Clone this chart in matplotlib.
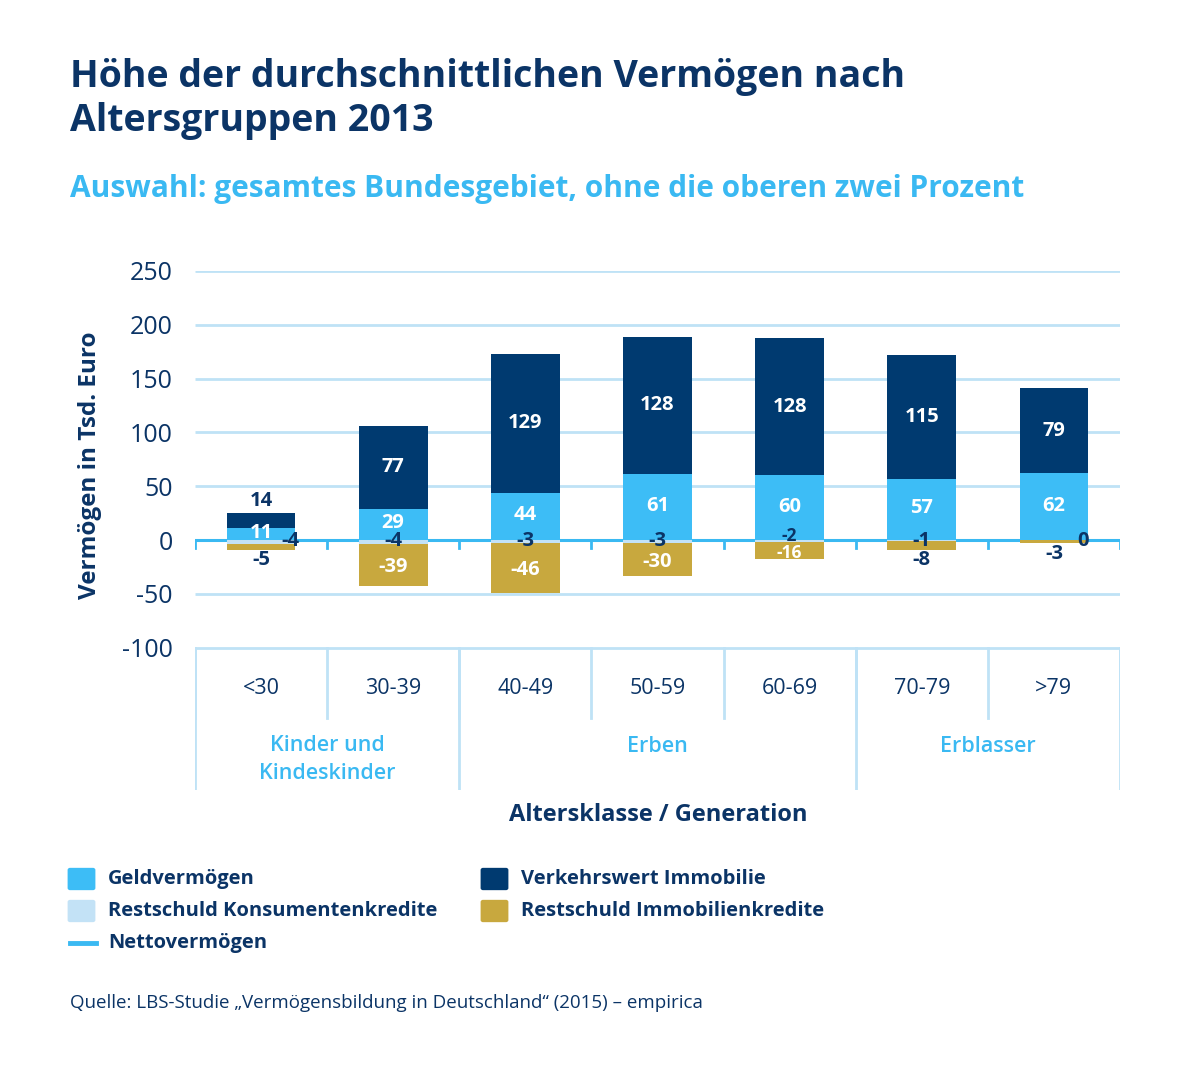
import numpy as np
import matplotlib.pyplot as plt
from matplotlib.patches import FancyBboxPatch
from matplotlib.lines import Line2D

plt.rcParams['font.family'] = ['Open Sans', 'DejaVu Sans']

# Daten (Tsd. Euro)
alter = ['<30', '30-39', '40-49', '50-59', '60-69', '70-79', '>79']
geld = [11, 29, 44, 61, 60, 57, 62]
immobilie = [14, 77, 129, 128, 128, 115, 79]
konsum = [-4, -4, -3, -3, -2, -1, 0]
immokredit = [-5, -39, -46, -30, -16, -8, -3]
gruppen = ['Kinder und\nKindeskinder', 'Erben', 'Erblasser']
gruppen_bereich = [(0, 1), (2, 4), (5, 6)]
yticks = [-100, -50, 0, 50, 100, 150, 200, 250]

c_geld = '#3dbdf6'
c_immo = '#003a70'
c_konsum = '#c3e2f6'
c_kredit = '#c8a83e'
c_text = '#0b3466'
c_grid = '#bfe2f6'
c_zero = '#3ab9f2'

W, H = 1200, 1080
fig = plt.figure(figsize=(12, 10.8), dpi=100)

# Achse: 250 bei 271 px, 0 bei 540 px
scale = (540 - 271) / 250
ybot = -(790 - 540) / scale
ax = fig.add_axes([195 / W, 1 - 790 / H, (1120 - 195) / W, (790 - 271) / H])
ax.set_xlim(-0.5, 6.5)
ax.set_ylim(ybot, 250)
for s in ax.spines.values():
    s.set_visible(False)
ax.set_xticks([])
ax.set_yticks(yticks)
ax.set_yticklabels([str(v) for v in yticks], fontsize=18, color=c_text, fontweight='medium')
ax.tick_params(axis='y', length=0, pad=16)

x = np.arange(len(alter))
bw = 0.52

# Gitternetz
for v in yticks:
    if v == 0:
        continue
    ax.plot([-0.5, 6.5], [v, v], color=c_grid, lw=2, zorder=1, solid_capstyle='butt')
ax.plot([-0.5, 6.5], [0, 0], color=c_zero, lw=2.2, zorder=1)
for b in np.arange(-0.5, 7, 1):
    ax.plot([b, b], [0, -7], color=c_zero, lw=2, zorder=1)

# Balken
ax.bar(x, geld, bw, color=c_geld, zorder=2)
ax.bar(x, immobilie, bw, bottom=geld, color=c_immo, zorder=2)
ax.bar(x, konsum, bw, color=c_konsum, zorder=2)
ax.bar(x, immokredit, bw, bottom=konsum, color=c_kredit, zorder=2)

lab = dict(fontweight='bold', ha='center', va='center', zorder=5)
for i in x:
    ax.text(i, geld[i] / 2 + 1, str(geld[i]), color='white', fontsize=14.5, **lab)
    top = geld[i] + immobilie[i]
    if immobilie[i] > 30:
        ax.text(i, geld[i] + immobilie[i] / 2, str(immobilie[i]), color='white',
                fontsize=14.5, **lab)
    else:
        ax.text(i, top + 11, str(immobilie[i]), color=c_text, fontsize=14.5, **lab)
    # schmales Segment: Beschriftungen etwas kleiner
    knapp = -20 < immokredit[i] <= -15
    fs = 12.5 if knapp else 14.5
    ky = 4 if knapp else -1
    kx = i + 0.22 if i in (0, 6) else i
    ax.text(kx, ky, str(konsum[i]), color=c_text, fontsize=fs, **lab)
    bottom = konsum[i] + immokredit[i]
    if immokredit[i] <= -15:
        yy = konsum[i] + immokredit[i] / 2 - (2 if knapp else 2)
        ax.text(i, yy, str(immokredit[i]), color='white', fontsize=fs, **lab)
    else:
        ax.text(i, bottom - 10, str(immokredit[i]), color=c_text, fontsize=fs, **lab)

# Tabelle unter der Achse
y_mid = -(718 - 540) / scale
for b in np.arange(-0.5, 7, 1):
    ax.plot([b, b], [-100, y_mid], color=c_grid, lw=2, zorder=1)
grenzen = [-0.5] + [g[1] + 0.5 for g in gruppen_bereich]
for b in grenzen:
    ax.plot([b, b], [-100, ybot], color=c_grid, lw=2, zorder=1)
for i, a in enumerate(alter):
    ax.text(i, -(688 - 540) / scale, a, fontsize=15.5, color=c_text,
            ha='center', va='center')
for g, (a, b) in zip(gruppen, gruppen_bereich):
    n = g.count('\n')
    ypx = 746 + 13.5 * n
    ax.text((a + b) / 2, -(ypx - 540) / scale, g, fontsize=15.5, color=c_zero,
            fontweight='semibold', ha='center', va='center', linespacing=1.4)

# Titel
fig.text(70 / W, 1 - 58 / H, 'Höhe der durchschnittlichen Vermögen nach\nAltersgruppen 2013',
         fontsize=27, fontweight='bold', color=c_text, ha='left', va='top', linespacing=1.2)
fig.text(70 / W, 1 - 189 / H, 'Auswahl: gesamtes Bundesgebiet, ohne die oberen zwei Prozent',
         fontsize=21.5, fontweight='bold', color=c_zero, ha='left', va='center')
fig.text(90 / W, 1 - 465 / H, 'Vermögen in Tsd. Euro', rotation=90, fontsize=17.5,
         fontweight='bold', color=c_text, ha='center', va='center')
fig.text(658 / W, 1 - 815 / H, 'Altersklasse / Generation', fontsize=17,
         fontweight='bold', color=c_text, ha='center', va='center')

# Legende
leg = [('Geldvermögen', c_geld, 70, 879), ('Verkehrswert Immobilie', c_immo, 483, 879),
       ('Restschuld Konsumentenkredite', c_konsum, 70, 911),
       ('Restschuld Immobilienkredite', c_kredit, 483, 911)]
for name, col, lx, ly in leg:
    fig.patches.append(FancyBboxPatch((lx / W, 1 - (ly + 9) / H), 23 / W, 18 / H,
                                      boxstyle='round,pad=0.002', transform=fig.transFigure,
                                      facecolor=col, edgecolor='none'))
    fig.text((lx + 38) / W, 1 - ly / H, name, fontsize=14.5, fontweight='bold',
             color=c_text, ha='left', va='center')
fig.lines.append(Line2D([70 / W, 96 / W], [1 - 943 / H, 1 - 943 / H], color=c_zero,
                        lw=3.5, transform=fig.transFigure))
fig.text(108 / W, 1 - 943 / H, 'Nettovermögen', fontsize=14.5, fontweight='bold',
         color=c_text, ha='left', va='center')

fig.text(70 / W, 1 - 1003 / H,
         'Quelle: LBS-Studie „Vermögensbildung in Deutschland“ (2015) – empirica',
         fontsize=13.5, color=c_text, ha='left', va='center')

fig.savefig('out.png', dpi=100, facecolor='white')
